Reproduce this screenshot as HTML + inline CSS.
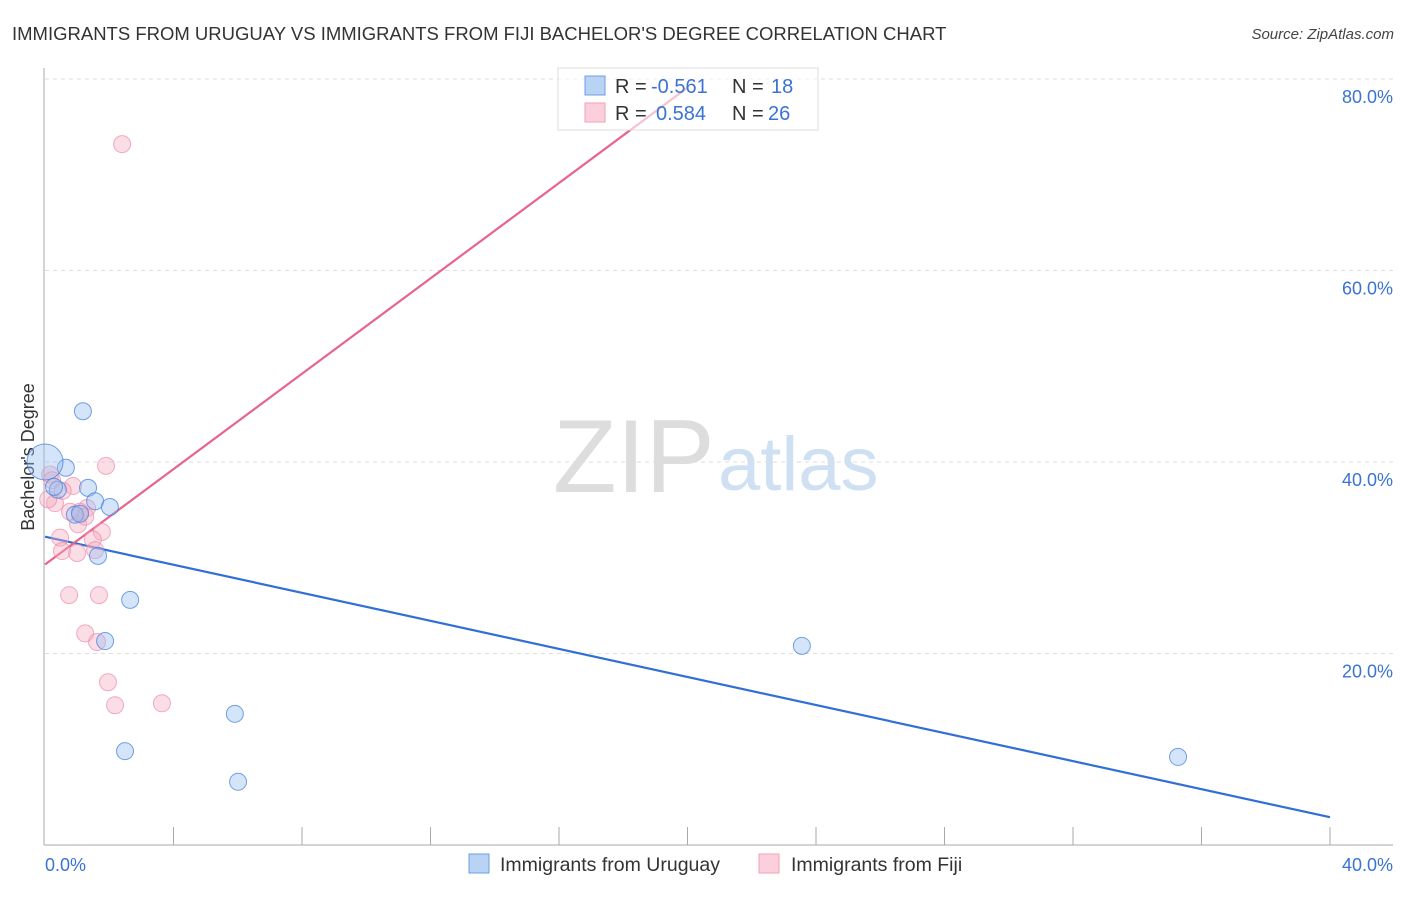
<!DOCTYPE html>
<html><head><meta charset="utf-8"><style>
body{margin:0;background:#fff;font-family:"Liberation Sans",sans-serif;}
svg text{font-family:"Liberation Sans",sans-serif;}
</style></head><body>
<svg id="c" width="1406" height="892" xmlns="http://www.w3.org/2000/svg">
<text x="12" y="40" font-size="18.5" fill="#333">IMMIGRANTS FROM URUGUAY VS IMMIGRANTS FROM FIJI BACHELOR'S DEGREE CORRELATION CHART</text>
<text x="1394" y="39" font-size="15" fill="#444" text-anchor="end" font-style="italic">Source: ZipAtlas.com</text>
<text x="34" y="457" font-size="18" fill="#333" text-anchor="middle" transform="rotate(-90 34 457)">Bachelor's Degree</text>
<text x="553" y="492" font-size="104" fill="#ddd" font-family="Liberation Serif">ZIP</text>
<text x="718" y="490" font-size="76" fill="#cfe0f3">atlas</text>
<g id="grid"></g><g id="axes"></g><g id="lines"></g><g id="pts"></g>
<g>
<rect x="558" y="68" width="260" height="62" fill="#fff" fill-opacity="0.6" stroke="#ddd"/>
<rect x="585" y="76" width="20" height="19" fill="#b9d3f5" stroke="#6d9ee6"/>
<text x="615" y="93" font-size="20" fill="#333">R =</text><text x="651" y="93" font-size="20" fill="#3a73d4">-0.561</text>
<text x="732" y="93" font-size="20" fill="#333">N =</text><text x="771" y="93" font-size="20" fill="#3a73d4">18</text>
<rect x="585" y="103" width="20" height="19" fill="#fbd0dc" stroke="#f0a0b8"/>
<text x="615" y="120" font-size="20" fill="#333">R =</text><text x="656" y="120" font-size="20" fill="#3a73d4">0.584</text>
<text x="732" y="120" font-size="20" fill="#333">N =</text><text x="768" y="120" font-size="20" fill="#3a73d4">26</text>
</g>
<g><rect x="469" y="854" width="20" height="19" fill="#b9d3f5" stroke="#6d9ee6"/><text x="500" y="871" font-size="19.5" fill="#333">Immigrants from Uruguay</text></g>
<g><rect x="759" y="854" width="20" height="19" fill="#fbd0dc" stroke="#f0a0b8"/><text x="791" y="871" font-size="19.5" fill="#333">Immigrants from Fiji</text></g>
</svg>
<script>
const yTicks=[20,40,60,80];
const xTickLabels=["0.0%","40.0%"];
const uruX=[1.18,0.65,0,1.34,1.56,2.02,0.40,0.28,0.93,1.09,1.65,2.65,1.87,5.91,2.49,6.01,23.56,35.27];
const uruY=[45.3,39.4,40.0,37.3,35.9,35.3,37.1,37.4,34.5,34.6,30.2,25.6,21.3,13.7,9.8,6.6,20.8,9.2];
const fijiX=[2.40,1.90,0.16,0.22,0.87,0.31,0.78,1.31,1.03,1.25,0.47,1.77,1.49,0.53,1.0,1.56,0.75,1.68,1.25,1.62,1.96,2.18,3.64,1.09,0.1,0.55];
const fijiY=[73.2,39.6,38.7,38.1,37.5,35.7,34.8,35.2,33.5,34.3,32.1,32.7,31.9,30.7,30.5,30.8,26.1,26.1,22.1,21.2,17.0,14.6,14.8,34.8,36.1,37.0];
const uruLine=[32.2,2.9]; // y at x=0 and x=40
const fijiLine=[29.3,2.49,20.0]; // intercept, slope, end x
const X=v=>45+v*32.125, Y=v=>845-v*9.575;
const NS="http://www.w3.org/2000/svg";
function mk(p,t,a){const e=document.createElementNS(NS,t);for(const k in a)e.setAttribute(k,a[k]);document.getElementById(p).appendChild(e);return e;}
yTicks.forEach(t=>{
 const l=mk('grid','line',{x1:45,x2:1393,y1:Y(t),y2:Y(t),stroke:'#ddd','stroke-dasharray':'4,4'});
 
 
 const tx=mk('grid','text',{x:1393,y:Y(t)+24,'font-size':18,fill:'#3a73d4','text-anchor':'end'});
 tx.textContent=t.toFixed(1)+'%';
 
 
});
mk('axes','line',{x1:44,x2:44,y1:68,y2:845,stroke:'#aaa'});
mk('axes','line',{x1:44,x2:1393,y1:845,y2:845,stroke:'#aaa'});
for(let i=1;i<=10;i++){mk('axes','line',{x1:X(i*4),x2:X(i*4),y1:827,y2:845,stroke:'#aaa'});}
[0,1].forEach(i=>{const t=mk('axes','text',{x:i?1393:45,y:871,'font-size':18,fill:'#3a73d4','text-anchor':i?'end':'start'});t.textContent=xTickLabels[i];
 
 });
const bl=mk('lines','line',{x1:X(0),y1:Y(uruLine[0]),x2:X(40),y2:Y(uruLine[1]),stroke:'#2f6fd6','stroke-width':2.2});


const pl=mk('lines','line',{x1:X(0),y1:Y(fijiLine[0]),x2:X(fijiLine[2]),y2:Y(fijiLine[0]+fijiLine[1]*fijiLine[2]),stroke:'#e8648d','stroke-width':2.2});


fijiX.forEach((v,i)=>{const c=mk('pts','circle',{cx:X(v),cy:Y(fijiY[i]),r:8.5,fill:'rgba(246,170,192,0.4)',stroke:'rgba(236,140,170,0.7)'});
 
 });
uruX.forEach((v,i)=>{const c=mk('pts','circle',{cx:X(v),cy:Y(uruY[i]),r:i==2?18:8.5,fill:'rgba(150,190,240,0.4)',stroke:'rgba(70,130,220,0.75)'});
 
 });
</script>
</body></html>
